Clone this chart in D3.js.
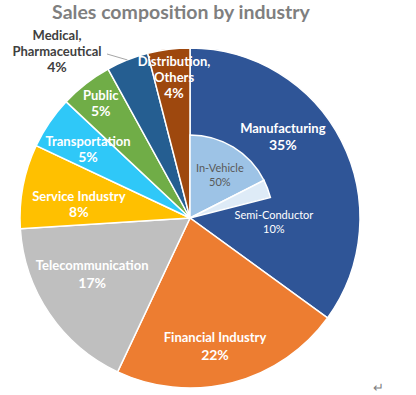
<!DOCTYPE html>
<html>
<head>
<meta charset="utf-8">
<script src="https://cdn.jsdelivr.net/npm/d3@7"></script>
<style>
  body { margin: 0; background: white; }
  svg { display: block; font-family: Lato, "Open Sans", sans-serif; }
</style>
</head>
<body>
<div id="chart"></div>
<script>
// outer pie: industries, clockwise from 12 o'clock
var industries = ['Manufacturing', 'Financial Industry', 'Telecommunication', 'Service Industry',
  'Transportation', 'Public', 'Medical, Pharmaceutical', 'Distribution, Others'];
var shares = [35, 22, 17, 8, 5, 5, 4, 4];
var colors = ['#2F5597', '#ED7D31', '#BFBFBF', '#FFC000', '#2FC8F8', '#70AD47', '#255E91', '#9E480E'];

// inner breakdown of manufacturing (share of manufacturing)
var subNames = ['In-Vehicle', 'Semi-Conductor'];
var subShares = [50, 10];
var subColors = ['#9DC3E6', '#DEEBF7'];

var WIDTH = 416, HEIGHT = 395;
var cx = 190, cy = 218, R = 170, r = 83;

var svg = d3.select('#chart').append('svg')
  .attr('width', WIDTH)
  .attr('height', HEIGHT);

svg.append('text')
  .attr('x', 181)
  .attr('y', 19)
  .attr('text-anchor', 'middle')
  .attr('font-size', '19.5px')
  .attr('font-weight', 'bold')
  .attr('fill', '#7F7F7F')
  .text('Sales composition by industry');

var g = svg.append('g').attr('transform', 'translate(' + cx + ',' + cy + ')');

var pie = d3.pie().sort(null).value(function(d) { return d; });
var arcs = pie(shares);
var arc = d3.arc().innerRadius(0).outerRadius(R);

g.selectAll('path.outer')
  .data(arcs)
  .enter().append('path')
  .attr('class', 'outer')
  .attr('d', arc)
  .attr('fill', function(d, i) { return colors[i]; })
  .attr('stroke', 'white')
  .attr('stroke-width', 1.5);

// inner slices share the manufacturing angle scale
var total = d3.sum(shares);
var angle = d3.scaleLinear().domain([0, total]).range([0, 2 * Math.PI]);
var manuf = shares[0];
var start = 0;
var subArcs = subShares.map(function(v) {
  var a = { startAngle: angle(start), endAngle: angle(start + manuf * v / 100) };
  start += manuf * v / 100;
  return a;
});
var subArc = d3.arc().innerRadius(0).outerRadius(r);

g.selectAll('path.inner')
  .data(subArcs)
  .enter().append('path')
  .attr('class', 'inner')
  .attr('d', subArc)
  .attr('fill', function(d, i) { return subColors[i]; })
  .attr('stroke', 'white')
  .attr('stroke-width', 1.5);

// label placement: [angle in degrees, radius, line gap]
var labelTweak = {
  'Manufacturing': [49, 123, 17],
  'Financial Industry': [169, 131, 18],
  'Telecommunication': [240, 113, 18],
  'Service Industry': [277, 112, 16],
  'Transportation': [304, 123, 16],
  'Public': [322, 145, 16],
  'Medical, Pharmaceutical': [0, 0, 16],
  'Distribution, Others': [353.5, 141, 16]
};
var lines = {
  'Medical, Pharmaceutical': ['Medical,', 'Pharmaceutical'],
  'Distribution, Others': ['Distribution,', 'Others']
};

function polar(a, rad) {
  return [Math.sin(a) * rad, -Math.cos(a) * rad];
}

arcs.forEach(function(d, i) {
  var name = industries[i];
  var tw = labelTweak[name];
  var mid = tw[0] * Math.PI / 180;
  var p = polar(mid, tw[1]);
  var parts = (lines[name] || [name]).concat([shares[i] + '%']);
  var fill = 'white';

  if (name === 'Medical, Pharmaceutical') {
    // outside label with leader line to the slice edge
    var edge = polar((d.startAngle + d.endAngle) / 2, R);
    p = [-133, -167];
    g.append('polyline')
      .attr('points', [[p[0] + 50, p[1] + 3], edge].map(function(q) { return q.join(','); }).join(' '))
      .attr('fill', 'none')
      .attr('stroke', '#A6A6A6')
      .attr('stroke-width', 1);
    fill = '#404040';
  }

  var t = g.append('text')
    .attr('text-anchor', 'middle')
    .attr('font-weight', 'bold')
    .attr('fill', fill);
  var n = parts.length;
  parts.forEach(function(s, k) {
    t.append('tspan')
      .attr('x', p[0])
      .attr('y', p[1] + (k - (n - 1) / 2) * tw[2] + 4.5)
      .attr('font-size', k === n - 1 ? '14px' : '13px')
      .text(s);
  });
});

// inner labels: [angle, radius, colour]
var subLabel = [[35, 52, '#595959'], [93, 84, 'white']];
subArcs.forEach(function(d, i) {
  var p = polar(subLabel[i][0] * Math.PI / 180, subLabel[i][1]);
  var t = g.append('text')
    .attr('text-anchor', 'middle')
    .attr('font-size', '11px')
    .attr('fill', subLabel[i][2]);
  t.append('tspan').attr('x', p[0]).attr('y', p[1] - 3).text(subNames[i]);
  t.append('tspan').attr('x', p[0]).attr('y', p[1] + 11).text(subShares[i] + '%');
});

svg.append('text')
  .attr('x', 378)
  .attr('y', 392)
  .attr('text-anchor', 'middle')
  .attr('font-size', '13px')
  .attr('fill', '#7F7F7F')
  .text('↵');
</script>
</body>
</html>
